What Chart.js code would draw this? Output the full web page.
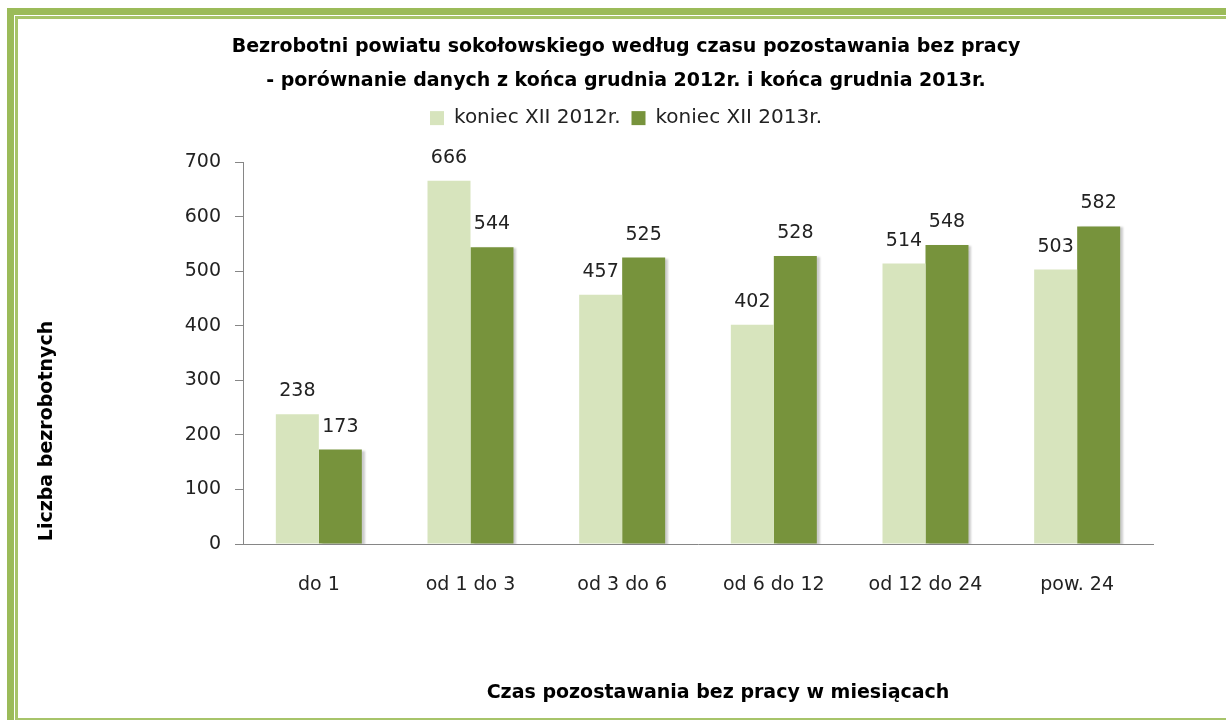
<!DOCTYPE html>
<html>
<head>
<meta charset="utf-8">
<script src="https://cdn.jsdelivr.net/npm/chart.js@4.4.1/dist/chart.umd.min.js"></script>
<style>
    body { margin: 0; width: 1226px; height: 720px; overflow: hidden; background: #fff; position: relative; }
    .frame-outer { position: absolute; left: 7px; top: 8px; width: 1260px; height: 760px; border: 7px solid #9bbb59; box-sizing: border-box; }
    .frame-inner { position: absolute; left: 15px; top: 16px; width: 1260px; height: 704px; border: 3px solid #a7c46a; border-bottom-width: 2px; border-right: none; box-sizing: border-box; }
    #chart_zone { position: absolute; left: 0; top: 0; }
</style>
</head>
<body>
<div class="frame-outer"></div>
<div class="frame-inner"></div>
<canvas id="chart_zone" width="1226" height="720"></canvas>
<script>
const categories = ['do 1', 'od 1 do 3', 'od 3 do 6', 'od 6 do 12', 'od 12 do 24', 'pow. 24'];
const values2012 = [238, 666, 457, 402, 514, 503];
const values2013 = [173, 544, 525, 528, 548, 582];
const seriesNames = ['koniec XII 2012r.', 'koniec XII 2013r.'];
const yMax = 700;
const yStep = 100;
const titleLines = ['Bezrobotni powiatu sokołowskiego według czasu pozostawania bez pracy',
    '- porównanie danych z końca grudnia 2012r. i końca grudnia 2013r.'];
const xTitle = 'Czas pozostawania bez pracy w miesiącach';
const yTitle = 'Liczba bezrobotnych';

Chart.defaults.font.family = '"DejaVu Sans", sans-serif';
Chart.defaults.color = '#222';

// numbers above the bars
const valueLabels = {
    id: 'valueLabels',
    afterDatasetsDraw(chart) {
        const ctx = chart.ctx;
        ctx.save();
        ctx.font = '19px "DejaVu Sans"';
        ctx.fillStyle = '#222';
        ctx.textAlign = 'center';
        ctx.textBaseline = 'alphabetic';
        chart.data.datasets.forEach((ds, i) => {
            chart.getDatasetMeta(i).data.forEach((bar, j) => {
                ctx.fillText(ds.data[j], bar.x, bar.y - 18);
            });
        });
        ctx.restore();
    }
};

// soft shadow on the right of the dark bars only
const barShadow = {
    id: 'barShadow',
    beforeDatasetDraw(chart, args) {
        const ctx = chart.ctx;
        ctx.save();
        if (args.index === 1) {
            ctx.shadowColor = 'rgba(0,0,0,0.2)';
            ctx.shadowBlur = 2;
            ctx.shadowOffsetX = 3;
            ctx.shadowOffsetY = 1;
        }
    },
    afterDatasetDraw(chart) {
        chart.ctx.restore();
    }
};

// axis titles sit off-centre in the original
const axisTitles = {
    id: 'axisTitles',
    afterDraw(chart) {
        const ctx = chart.ctx;
        ctx.save();
        ctx.font = 'bold 19px "DejaVu Sans"';
        ctx.fillStyle = '#000';
        ctx.textAlign = 'center';
        ctx.textBaseline = 'middle';
        ctx.fillText(xTitle, 718, 693);
        ctx.translate(47, 431);
        ctx.rotate(-Math.PI / 2);
        ctx.fillText(yTitle, 0, 0);
        ctx.restore();
    }
};

let graph = document.querySelector('#chart_zone').getContext('2d');

let myChart = new Chart(graph, {
    type: 'bar',
    data: {
        labels: categories,
        datasets: [{
            label: seriesNames[0],
            data: values2012,
            backgroundColor: '#d7e4bd',
            categoryPercentage: 0.567,
            barPercentage: 1.0
        },
        {
            label: seriesNames[1],
            data: values2013,
            backgroundColor: '#77933c',
            categoryPercentage: 0.567,
            barPercentage: 1.0
        }]
    },
    options: {
        responsive: false,
        animation: false,
        devicePixelRatio: 1,
        layout: {
            padding: { left: 99, right: 73, top: 0, bottom: 0 }
        },
        plugins: {
            title: {
                display: true,
                text: titleLines,
                color: '#000',
                font: { size: 19, weight: 'bold', lineHeight: 1.74 },
                padding: { top: 31, bottom: 0 }
            },
            subtitle: {
                display: true,
                text: '',
                weight: 500,
                font: { size: 10, lineHeight: 1 },
                padding: { top: 14, bottom: 0 }
            },
            legend: {
                display: true,
                position: 'top',
                labels: {
                    font: { size: 20 },
                    color: '#222',
                    boxWidth: 14,
                    boxHeight: 14,
                    padding: 11
                }
            },
            tooltip: { enabled: false }
        },
        scales: {
            x: {
                grid: { display: false, drawTicks: false },
                border: { color: '#868686', width: 1 },
                ticks: { font: { size: 19 }, color: '#222', padding: 30 },
                afterFit(scale) { scale.height = 176; }
            },
            y: {
                min: 0,
                max: yMax,
                ticks: { stepSize: yStep, font: { size: 19 }, color: '#222', padding: 14 },
                grid: { drawOnChartArea: false, tickLength: 8, color: '#868686' },
                border: { color: '#868686' },
                afterFit(scale) { scale.width = 144; }
            }
        }
    },
    plugins: [barShadow, valueLabels, axisTitles]
});
</script>
</body>
</html>
